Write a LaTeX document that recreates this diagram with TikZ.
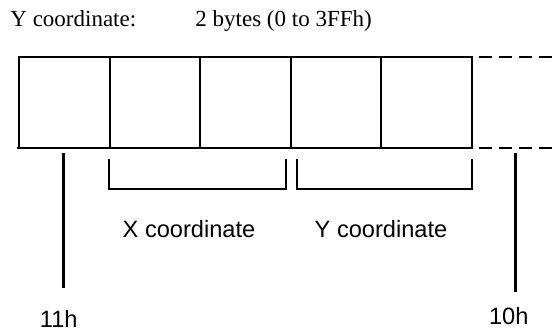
\documentclass[tikz,border=0pt]{standalone}
\usepackage{fontspec}
\setmainfont{Liberation Serif}
\setsansfont{Liberation Sans}
\usetikzlibrary{positioning, calc}

\begin{document}
\begin{tikzpicture}[x=0.5pt,y=-0.5pt,
    cell/.style={draw,line width=1pt,minimum width=45.3pt,minimum height=45.5pt,inner sep=0pt,outer sep=0pt},
    dashline/.style={line width=1pt,dash pattern=on 6.7pt off 3.3pt},
    bracket/.style={line width=1pt},
    tick/.style={line width=1.5pt},
    head/.style={font=\fontsize{11.5}{14}\selectfont,inner sep=0pt,anchor=base west},
    lbl/.style={font=\sffamily\fontsize{11.8}{14}\selectfont,inner sep=0pt,anchor=base}]
  \useasboundingbox (0,0) rectangle (557,330);
  % heading
  \node[head] (ttl) at (10,26.7) {Y coordinate:};
  \node[head] (size) at (195,26.7) {2 bytes (0 to 3FFh)};
  % bytes
  \foreach \i in {0,...,4}
    \node[cell] (c\i) at (64.3+\i*90.6,102.2) {};
  \draw[line width=1pt] (c0.south west) -- ++(-2.3,0);
  \draw[dashline] ($(c4.north east)+(6.6,0)$) -- (557,56.7);
  \draw[dashline] ($(c4.south east)+(6.6,0)$) -- (557,147.7);
  % brackets
  \coordinate (xl) at (109,159);
  \coordinate (xr) at (286,159);
  \coordinate (yl) at (296.7,159);
  \coordinate (yr) at (471.7,159);
  \draw[bracket] (xl) -- ++(0,30) -| (xr);
  \draw[bracket] (yl) -- ++(0,30) -| (yr);
  \node[lbl] (xc) at (189,237.7) {X coordinate};
  \node[lbl] (yc) at (381,237.7) {Y coordinate};
  % address marks
  \coordinate (t11) at (63.3,153.3);
  \coordinate (t10) at (515.7,153);
  \draw[tick] (t11) -- ++(0,135);
  \draw[tick] (t10) -- ++(0,138.7);
  \node[lbl] (h11) at (58.7,328) {11h};
  \node[lbl] (h10) at (508.7,325) {10h};
\end{tikzpicture}
\end{document}
